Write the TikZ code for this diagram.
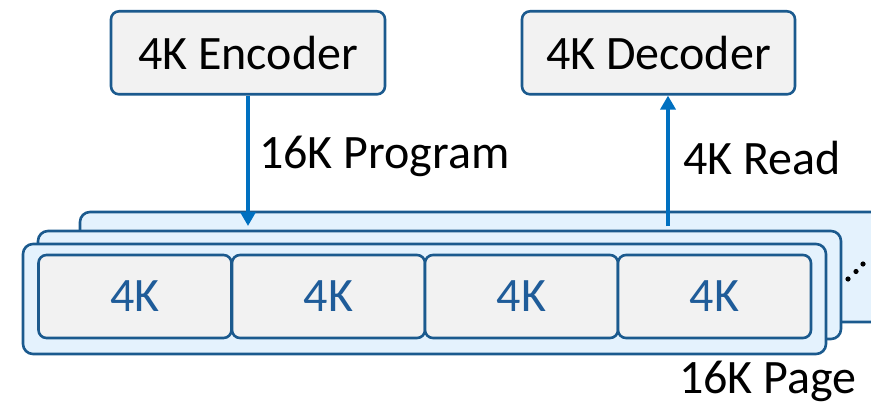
\documentclass[tikz,border=0pt]{standalone}
\usepackage{fontspec}
\setmainfont{Carlito}
\usetikzlibrary{arrows.meta}
\definecolor{bord}{HTML}{1B5A8E}
\definecolor{pagefill}{HTML}{E4F2FD}
\definecolor{cellfill}{HTML}{F2F2F2}
\definecolor{arr}{HTML}{0070C0}
\definecolor{celltext}{HTML}{1F5C99}
\tikzset{
  topbox/.style={draw=bord, fill=cellfill, line width=2.6pt, rounded corners=8pt, minimum height=83pt, inner xsep=10pt, font=\fontsize{48}{52}\selectfont, anchor=north},
  pagebox/.style={draw=bord, fill=pagefill, line width=2.6pt, rounded corners=10pt},
  cellbox/.style={draw=bord, fill=cellfill, line width=2.6pt, rounded corners=8pt, minimum width=193pt, minimum height=83pt, text=celltext, font=\fontsize{48}{52}\selectfont},
  lbl/.style={font=\fontsize{48}{52}\selectfont, anchor=west, inner sep=0pt},
  flow/.style={draw=arr, line width=3.6pt, -{Triangle[length=14pt,width=15pt]}}
}
\begin{document}
\begin{tikzpicture}[x=1pt,y=-1pt]
\useasboundingbox (0,0) rectangle (871,404);
\begin{scope}
\clip (0,0) rectangle (871,404);
\draw[pagebox] (80,322) rectangle (895,212);
\end{scope}
\draw[pagebox] (38,231) rectangle (841,339);
\draw[pagebox] (23,244) rectangle (826,354);
\node[cellbox] (c1) at (135,296.5) {4K};
\node[cellbox] (c2) at (328.5,296.5) {4K};
\node[cellbox] (c3) at (521.5,296.5) {4K};
\node[cellbox] (c4) at (714.5,296.5) {4K};
\node[topbox, minimum width=274pt] (enc) at (248,10) {4K Encoder};
\node[topbox, minimum width=273pt] (dec) at (658.5,10) {4K Decoder};
\coordinate (inTip) at (248,226);
\coordinate (outStart) at (668,226);
\draw[flow] (enc.south) -- (inTip);
\draw[flow] (outStart) -- (outStart |- dec.south);
\node[lbl] (lprog) at (259,156) {16K Program};
\node[lbl] (lread) at (683,158) {4K Read};
\node[lbl] (lpage) at (679,381) {16K Page};
\fill (848,279) circle (2.6pt) (856,271.5) circle (2.6pt) (863,264) circle (2.6pt);
\end{tikzpicture}
\end{document}
